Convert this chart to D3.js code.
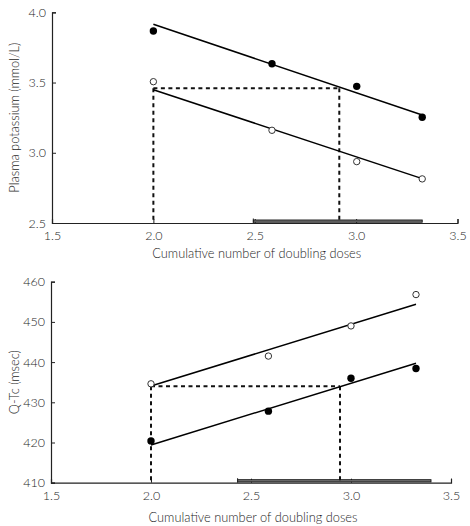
<!DOCTYPE html>
<html><head><meta charset="utf-8">
<script src="https://cdn.jsdelivr.net/npm/d3@7"></script>
<style>body{margin:0;background:#fff}svg{display:block}text{font-family:Lato,"Open Sans",sans-serif;fill:#1e1e1e;font-weight:300}</style>
</head><body>
<script>
// ---- Data ----
const xTicks = [1.5, 2.0, 2.5, 3.0, 3.5];
const xTitle = "Cumulative number of doubling doses";

// Top panel: plasma potassium
const kTitle = "Plasma potassium (mmol/L)";
const kTicks = [2.5, 3.0, 3.5, 4.0];
const kDoses = [2.0, 2.585, 3.003, 3.326];
const kFilled = [3.867, 3.634, 3.473, 3.253];
const kOpen = [3.506, 3.160, 2.937, 2.814];
const kFilledFit = [[2.0, 3.915], [3.326, 3.269]];
const kOpenFit = [[2.0, 3.449], [3.326, 2.816]];
const kDashY = 3.459;
const kDashX = [2.0, 2.917];
const kRange = [2.493, 3.326];

// Bottom panel: Q-Tc
const qTitle = "Q-Tc (msec)";
const qTicks = [410, 420, 430, 440, 450, 460];
const qDoses = [2.0, 2.587, 3.0, 3.325];
const qOpen = [434.6, 441.5, 449.0, 456.8];
const qFilled = [420.4, 427.8, 436.0, 438.4];
const qOpenFit = [[2.0, 434.05], [3.325, 454.4]];
const qFilledFit = [[2.0, 419.4], [3.325, 439.7]];
const qDashY = 434.0;
const qDashX = [2.0, 2.945];
const qRange = [2.433, 3.40];

const svg = d3.select("body").append("svg").attr("width", 470).attr("height", 526);

function panel(cfg) {
  const x = d3.scaleLinear().domain([1.5, 3.5]).range([cfg.x0, cfg.x1]);
  const y = d3.scaleLinear().domain(cfg.yDomain).range([cfg.y1, cfg.y0]);
  const g = svg.append("g");
  const ax = "#222";
  const tc = "#1e1e1e";

  // x axis
  const xa = g.append("g").attr("transform", `translate(0,${cfg.y1})`)
    .call(d3.axisBottom(x).tickValues(xTicks).tickFormat(d3.format(".1f")).tickSize(-4).tickPadding(8));
  xa.select(".domain").attr("stroke", ax).attr("stroke-width", 1.2);
  xa.selectAll(".tick line").attr("stroke", ax);
  xa.selectAll("text").attr("font-size", 12.5).attr("fill", tc).attr("font-family", "Lato").attr("font-weight", 300);

  // y axis
  const ya = g.append("g").attr("transform", `translate(${cfg.x0},0)`)
    .call(d3.axisLeft(y).tickValues(cfg.yTicks).tickFormat(cfg.fmt).tickSize(-4).tickPadding(6));
  ya.select(".domain").attr("stroke", ax).attr("stroke-width", 1.2);
  ya.selectAll(".tick line").attr("stroke", ax);
  ya.selectAll("text").attr("font-size", 12.5).attr("fill", tc).attr("font-family", "Lato").attr("font-weight", 300);

  // range bar
  const bx0 = x(cfg.range[0]), bx1 = x(cfg.range[1]);
  g.append("rect").attr("x", bx0).attr("y", cfg.y1 - 3).attr("width", bx1 - bx0).attr("height", 2.2)
    .attr("fill", "#777").attr("stroke", "#111").attr("stroke-width", 0.9);
  g.append("line").attr("x1", bx0).attr("x2", bx0).attr("y1", cfg.y1 - 4.5).attr("y2", cfg.y1).attr("stroke", "#222");

  // dashed guides
  const dash = {stroke: "#111", "stroke-width": 2, "stroke-dasharray": "4,3.5", fill: "none"};
  const addDash = (x1, y1, x2, y2) => {
    const l = g.append("line").attr("x1", x1).attr("y1", y1).attr("x2", x2).attr("y2", y2);
    Object.entries(dash).forEach(([k, v]) => l.attr(k, v));
  };
  addDash(x(cfg.dashX[0]), y(cfg.dashY), x(cfg.dashX[1]), y(cfg.dashY));
  addDash(x(cfg.dashX[0]), y(cfg.dashY), x(cfg.dashX[0]), cfg.y1);
  addDash(x(cfg.dashX[1]), y(cfg.dashY), x(cfg.dashX[1]), cfg.y1);

  // fit lines
  const line = d3.line().x(d => x(d[0])).y(d => y(d[1]));
  [cfg.fit1, cfg.fit2].forEach(f => g.append("path").attr("d", line(f))
    .attr("stroke", "#000").attr("stroke-width", 1.5).attr("fill", "none"));

  // points
  g.selectAll(".op").data(cfg.doses.map((d, i) => [d, cfg.open[i]])).join("circle")
    .attr("cx", d => x(d[0])).attr("cy", d => y(d[1])).attr("r", 3.2)
    .attr("fill", "#fff").attr("stroke", "#333").attr("stroke-width", 1);
  g.selectAll(".fp").data(cfg.doses.map((d, i) => [d, cfg.filled[i]])).join("circle")
    .attr("cx", d => x(d[0])).attr("cy", d => y(d[1])).attr("r", 3.7)
    .attr("fill", "#000");

  // titles
  g.append("text").attr("x", (cfg.x0 + cfg.x1) / 2 + 2).attr("y", cfg.xTitleY)
    .attr("text-anchor", "middle").attr("font-size", 12.8).text(xTitle);
  g.append("text").attr("transform", `translate(${cfg.yTitleX},${(cfg.y0 + cfg.y1) / 2}) rotate(-90)`)
    .attr("text-anchor", "middle").attr("font-size", 12.8).text(cfg.yTitle);
}

panel({x0: 52, x1: 457.5, y0: 12.3, y1: 223, yDomain: [2.5, 4.0], yTicks: kTicks, fmt: d3.format(".1f"),
  doses: kDoses, filled: kFilled, open: kOpen, fit1: kFilledFit, fit2: kOpenFit,
  dashY: kDashY, dashX: kDashX, range: kRange, xTitleY: 258, yTitleX: 19, yTitle: kTitle});

panel({x0: 51, x1: 451, y0: 281.7, y1: 482.7, yDomain: [410, 460], yTicks: qTicks, fmt: d3.format("d"),
  doses: qDoses, filled: qFilled, open: qOpen, fit1: qFilledFit, fit2: qOpenFit,
  dashY: qDashY, dashX: qDashX, range: qRange, xTitleY: 522, yTitleX: 19, yTitle: qTitle});
</script>
</body></html>
